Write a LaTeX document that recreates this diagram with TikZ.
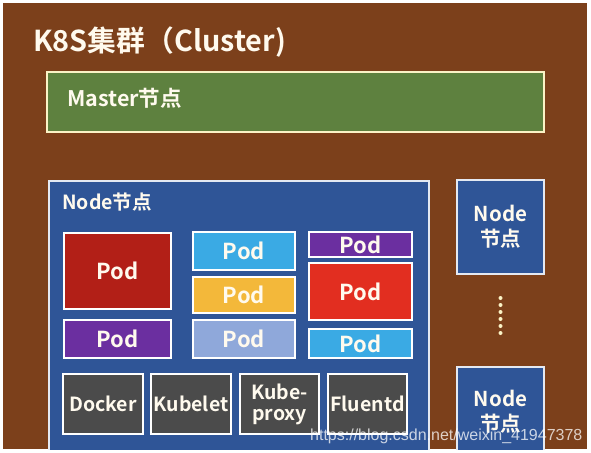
\documentclass[tikz,border=0pt]{standalone}
\usepackage{fontspec}
\setmainfont{Noto Sans CJK SC}[BoldFont={Noto Sans CJK SC Bold}]
\newfontfamily\wmfont{Liberation Sans}
\usepackage{tikz}
\definecolor{clusterbrown}{HTML}{7C401B}
\definecolor{mastergreen}{HTML}{5E813F}
\definecolor{mastercream}{HTML}{FBF3C6}
\definecolor{nodeblue}{HTML}{2F5597}
\definecolor{nodeedge}{HTML}{E4E9F2}
\definecolor{podred}{HTML}{B21F17}
\definecolor{podpurple}{HTML}{6B2FA0}
\definecolor{podcyan}{HTML}{3AAAE4}
\definecolor{podyellow}{HTML}{F3B83A}
\definecolor{podlight}{HTML}{8FA8DA}
\definecolor{podbright}{HTML}{E22E20}
\definecolor{compgrey}{HTML}{4B4B4B}
\definecolor{textcream}{HTML}{FFFAEE}

\begin{document}
\begin{tikzpicture}[x=1pt,y=-1pt,
    box/.style={draw=white,line width=1.5pt,rectangle,inner sep=0pt,text=textcream,font=\fontsize{22}{24}\selectfont\bfseries},
    pnode/.style={box,minimum width=#1},
    comp/.style={box,fill=compgrey,minimum width=80pt,minimum height=60pt,align=center,font=\fontsize{19.5}{21}\selectfont\bfseries},
    rnode/.style={box,fill=nodeblue,draw=nodeedge,minimum width=87pt,align=center,font=\fontsize{20.5}{25}\selectfont\bfseries}]
    \useasboundingbox (0,0) rectangle (591,452);
    \fill[white] (0,0) rectangle (591,452);
    \fill[clusterbrown] (3,3) rectangle (587,449);
    \begin{scope}
    \clip (3,3) rectangle (587,449);
    \node[anchor=base west,inner sep=0pt,text=textcream,font=\fontsize{28.8}{32}\selectfont\bfseries] (title) at (33,52) {K8S集群（Cluster)};

    \node[box,draw=mastercream,fill=mastergreen,minimum width=497pt,minimum height=60pt] (master) at (295.5,102) {};
    \node[anchor=base west,inner sep=0pt,text=textcream,font=\fontsize{21.5}{24}\selectfont\bfseries] (mastertext) at (67,106) {Master节点};

    \node[box,draw=nodeedge,fill=nodeblue,minimum width=380pt,minimum height=290pt,anchor=north west] (node) at (48,180) {};
    \node[anchor=base west,inner sep=0pt,text=textcream,font=\fontsize{19.5}{22}\selectfont\bfseries] (nodetext) at (62,209) {Node节点};

    \node[pnode=107pt,fill=podred,minimum height=76pt] (pod1) at (117.5,271) {Pod};
    \node[pnode=107pt,fill=podpurple,minimum height=38pt] (pod2) at (117.5,339) {Pod};
    \node[pnode=102pt,fill=podcyan,minimum height=38pt] (pod3) at (244,251) {Pod};
    \node[pnode=102pt,fill=podyellow,minimum height=36pt] (pod4) at (244,295) {Pod};
    \node[pnode=102pt,fill=podlight,minimum height=38pt] (pod5) at (244,339) {Pod};
    \node[pnode=103pt,fill=podpurple,minimum height=25pt] (pod6) at (360.5,244.5) {Pod};
    \node[pnode=103pt,fill=podbright,minimum height=57pt] (pod7) at (360.5,291.5) {Pod};
    \node[pnode=103pt,fill=podcyan,minimum height=29pt] (pod8) at (360.5,343.5) {Pod};

    \node[comp] (docker) at (103,404) {Docker};
    \node[comp] (kubelet) at (191,404) {Kubelet};
    \node[comp,minimum width=79pt] (proxy) at (279.5,404) {Kube-\\proxy};
    \node[comp,minimum width=79pt] (fluentd) at (367.5,404) {Fluentd};

    \node[rnode,minimum height=94pt] (node2) at (500.5,227) {Node\\节点};
    \foreach \y in {298,305,...,333}
        \fill[mastercream] (500.5,\y) circle (2pt);
    \node[rnode,minimum height=90pt] (noden) at (500.5,412) {Node\\节点};

    \node[anchor=base west,inner sep=0pt,text=white,opacity=0.75,font=\wmfont\fontsize{16}{18}\selectfont] (mark) at (310,440) {https://blog.csdn.net/weixin\_41947378};
    \end{scope}
\end{tikzpicture}
\end{document}
